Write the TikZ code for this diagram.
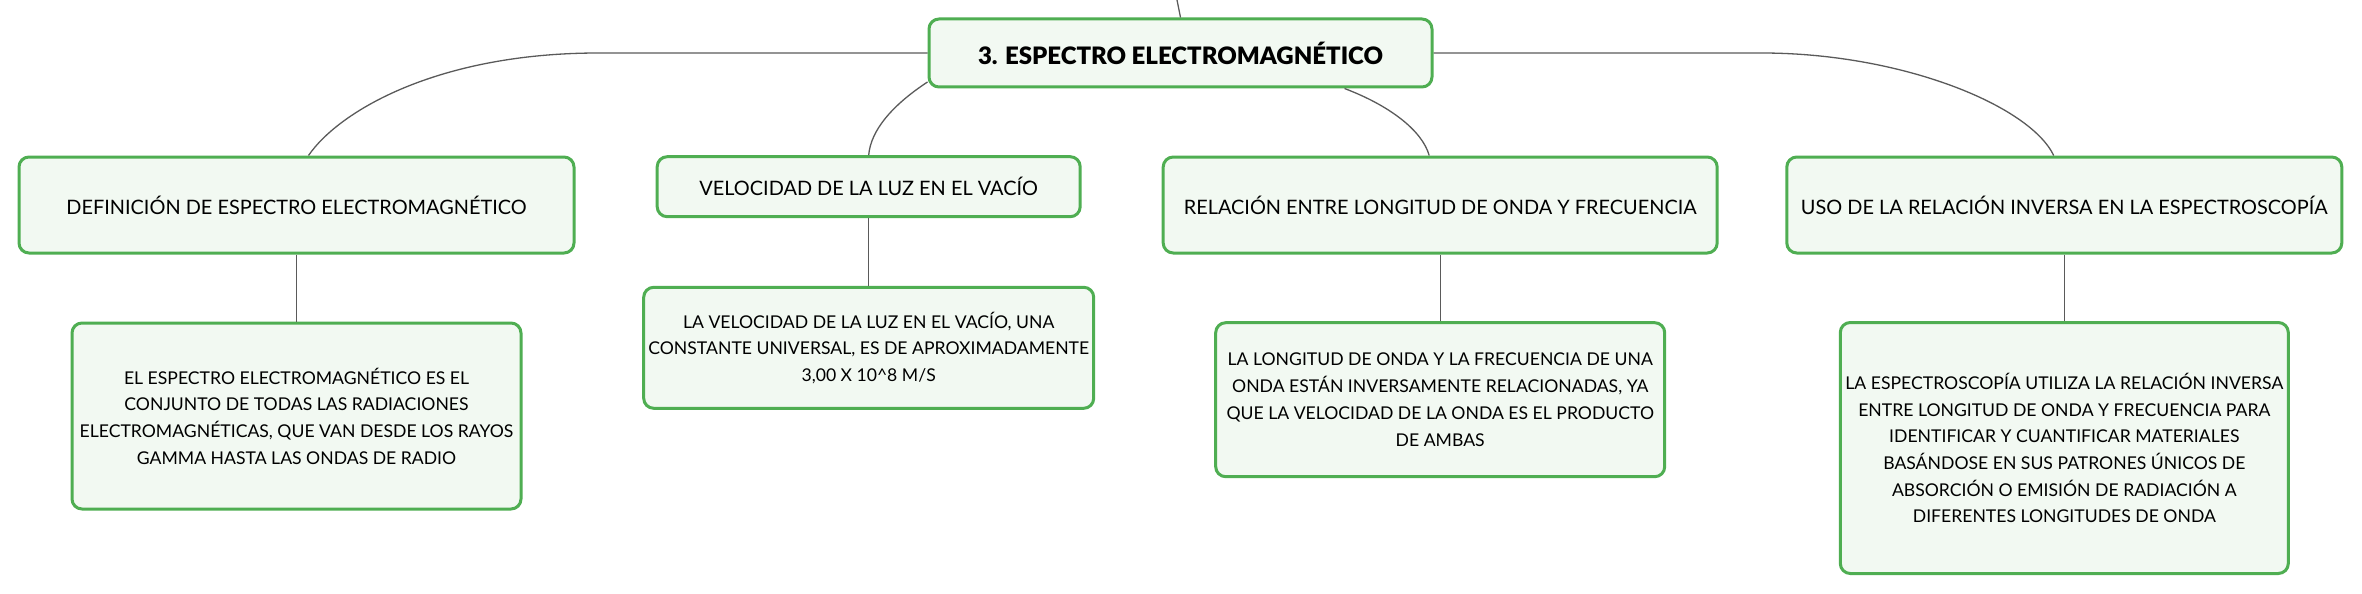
\documentclass[tikz,border=0pt]{standalone}
\usepackage{fontspec}
\setmainfont{Lato}
\newfontfamily\titlefont{Lato Black}
\definecolor{boxgreen}{HTML}{4FAE52}
\definecolor{boxfill}{HTML}{F2F9F2}
\definecolor{conngray}{HTML}{5A5A5A}
\tikzset{
  mbox/.style={draw=boxgreen, line width=3pt, fill=boxfill, rounded corners=10pt,
    align=center, inner sep=0pt, text=black,
    font=\fontsize{19.9}{26.7}\selectfont},
  leafbox/.style={mbox, font=\fontsize{17.6}{26.7}\selectfont},
  rootbox/.style={mbox, font=\fontsize{24}{30}\titlefont},
  conn/.style={draw=conngray, line width=1.3pt}
}
\begin{document}
\begin{tikzpicture}[x=1pt,y=-1pt]
\useasboundingbox (0,0) rectangle (2362,594);

\node[rootbox, minimum width=503pt, minimum height=68pt] (root) at (1180.5,53) {3. ESPECTRO ELECTROMAGNÉTICO};

\node[mbox, minimum width=555pt, minimum height=96pt] (A) at (296.5,205) {DEFINICIÓN DE ESPECTRO ELECTROMAGNÉTICO};
\node[mbox, minimum width=423pt, minimum height=60pt] (B) at (868.7,186.7) {VELOCIDAD DE LA LUZ EN EL VACÍO};
\node[mbox, minimum width=554pt, minimum height=96pt] (C) at (1440.2,205) {RELACIÓN ENTRE LONGITUD DE ONDA Y FRECUENCIA};
\node[mbox, minimum width=555pt, minimum height=96pt] (D) at (2064.3,205) {USO DE LA RELACIÓN INVERSA EN LA ESPECTROSCOPÍA};

\node[leafbox, minimum width=449pt, minimum height=186pt] (A1) at (296.5,416) {EL ESPECTRO ELECTROMAGNÉTICO ES EL\\CONJUNTO DE TODAS LAS RADIACIONES\\ELECTROMAGNÉTICAS, QUE VAN DESDE LOS RAYOS\\GAMMA HASTA LAS ONDAS DE RADIO};
\node[leafbox, minimum width=450pt, minimum height=121pt] (B1) at (868.7,347.8) {LA VELOCIDAD DE LA LUZ EN EL VACÍO, UNA\\CONSTANTE UNIVERSAL, ES DE APROXIMADAMENTE\\3,00 X 10\textasciicircum 8 M/S};
\node[leafbox, minimum width=449pt, minimum height=154pt] (C1) at (1440.2,399.7) {LA LONGITUD DE ONDA Y LA FRECUENCIA DE UNA\\ONDA ESTÁN INVERSAMENTE RELACIONADAS, YA\\QUE LA VELOCIDAD DE LA ONDA ES EL PRODUCTO\\DE AMBAS};
\node[leafbox, minimum width=448pt, minimum height=251pt] (D1) at (2064.3,448) {LA ESPECTROSCOPÍA UTILIZA LA RELACIÓN INVERSA\\ENTRE LONGITUD DE ONDA Y FRECUENCIA PARA\\IDENTIFICAR Y CUANTIFICAR MATERIALES\\BASÁNDOSE EN SUS PATRONES ÚNICOS DE\\ABSORCIÓN O EMISIÓN DE RADIACIÓN A\\DIFERENTES LONGITUDES DE ONDA};

\coordinate (top) at (1177,0);
\draw[conn] (top) -- (root.north);

\draw[conn] (root.west) -- ++(-329,0) .. controls +(-160,0) and +(31,-45) .. ([xshift=12pt]A.north);
\draw[conn] ([yshift=-29pt]root.west) .. controls +(-35,23) and +(2,-25) .. (B.north);
\draw[conn] ([xshift=164pt]root.south) .. controls +(45,17) and +(-7,-25) .. ([xshift=-11pt]C.north);
\draw[conn] (root.east) -- ++(328,0) .. controls +(140,0) and +(-24,-50) .. ([xshift=-10.6pt]D.north);

\draw[conn] (A.south) -- (A1.north);
\draw[conn] (B.south) -- (B1.north);
\draw[conn] (C.south) -- (C1.north);
\draw[conn] (D.south) -- (D1.north);
\end{tikzpicture}
\end{document}
